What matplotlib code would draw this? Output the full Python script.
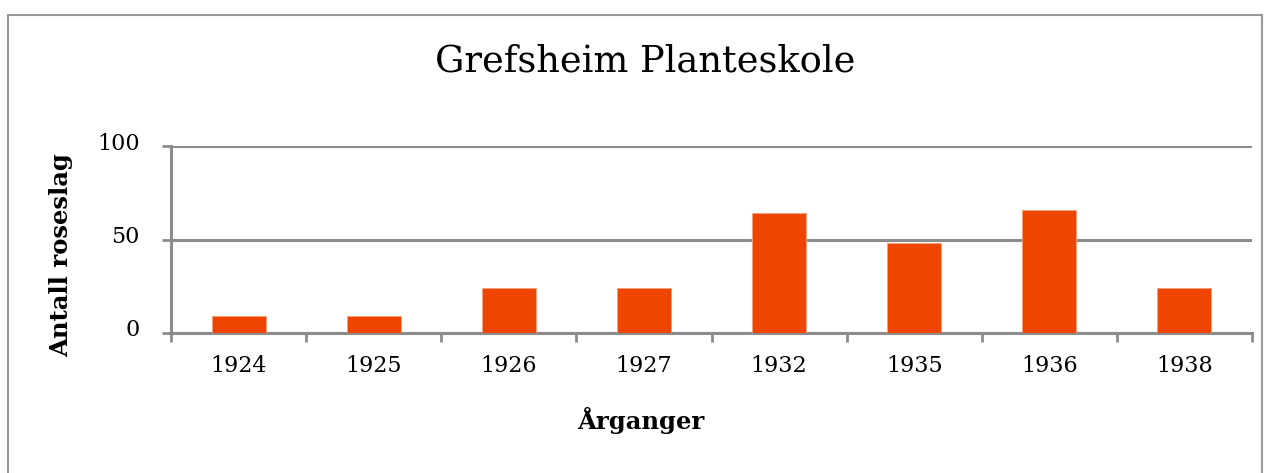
import matplotlib
matplotlib.use("Agg")
import matplotlib.pyplot as plt
from matplotlib.patches import Rectangle
from matplotlib.transforms import ScaledTranslation
import numpy as np

title = "Grefsheim Planteskole"
years = ["1924", "1925", "1926", "1927", "1932", "1935", "1936", "1938"]
counts = [9, 9, 24, 24, 64, 48, 66, 24]
y_ticks = [0, 50, 100]
x_label = "Årganger"
y_label = "Antall roseslag"

W, H = 1270, 473
fig = plt.figure(figsize=(W / 100, H / 100), dpi=100)
plt.rcParams['font.family'] = ['DejaVu Serif']

grid_c = '#8c8c8c'
bar_c = '#ee4500'

ax = fig.add_axes([171 / W, 1 - 333 / H, (1252 - 171) / W, (333 - 146) / H])
x = np.arange(len(years))
ax.bar(x, counts, width=0.4, color=bar_c, edgecolor='#f7a07c', linewidth=0.6, zorder=3)

ax.set_xlim(-0.5, len(years) - 0.5)
ax.set_ylim(0, 100)
ax.set_yticks(y_ticks)
ax.set_yticklabels([str(v) for v in y_ticks], fontsize=16)
ax.set_xticks(x)
ax.set_xticklabels(years, fontsize=16)
ax.set_xticks(np.arange(-0.5, len(years)), minor=True)
ax.tick_params(axis='x', which='major', length=0, pad=16)
ax.tick_params(axis='x', which='minor', length=6.5, width=2, color=grid_c, direction='out')
ax.tick_params(axis='y', length=6.5, width=2, color=grid_c, direction='out', pad=16)

ax.yaxis.grid(True, color=grid_c, linewidth=2.2, zorder=0)
ax.set_axisbelow(True)
for s in ['top', 'right']:
    ax.spines[s].set_visible(False)
for s in ['left', 'bottom']:
    ax.spines[s].set_color(grid_c)
    ax.spines[s].set_linewidth(2.2)

for lab in ax.get_yticklabels():
    lab.set_transform(lab.get_transform() + ScaledTranslation(0, 5 / 100, fig.dpi_scale_trans))

fig.text(645 / W, 1 - 62 / H, title, ha='center', va='center', fontsize=26.5)
fig.text(641 / W, 1 - 420 / H, x_label, ha='center', va='center', fontsize=17.5, fontweight='bold')
fig.text(61 / W, 1 - 255 / H, y_label, ha='center', va='center', fontsize=17.5,
         fontweight='bold', rotation=90)

fig.patches.append(Rectangle((8 / W, -0.1), (1262 - 8) / W, 1.1 - 15 / H,
                             transform=fig.transFigure, fill=False,
                             edgecolor='#999999', linewidth=1.5))

fig.savefig("out.png", dpi=100)
